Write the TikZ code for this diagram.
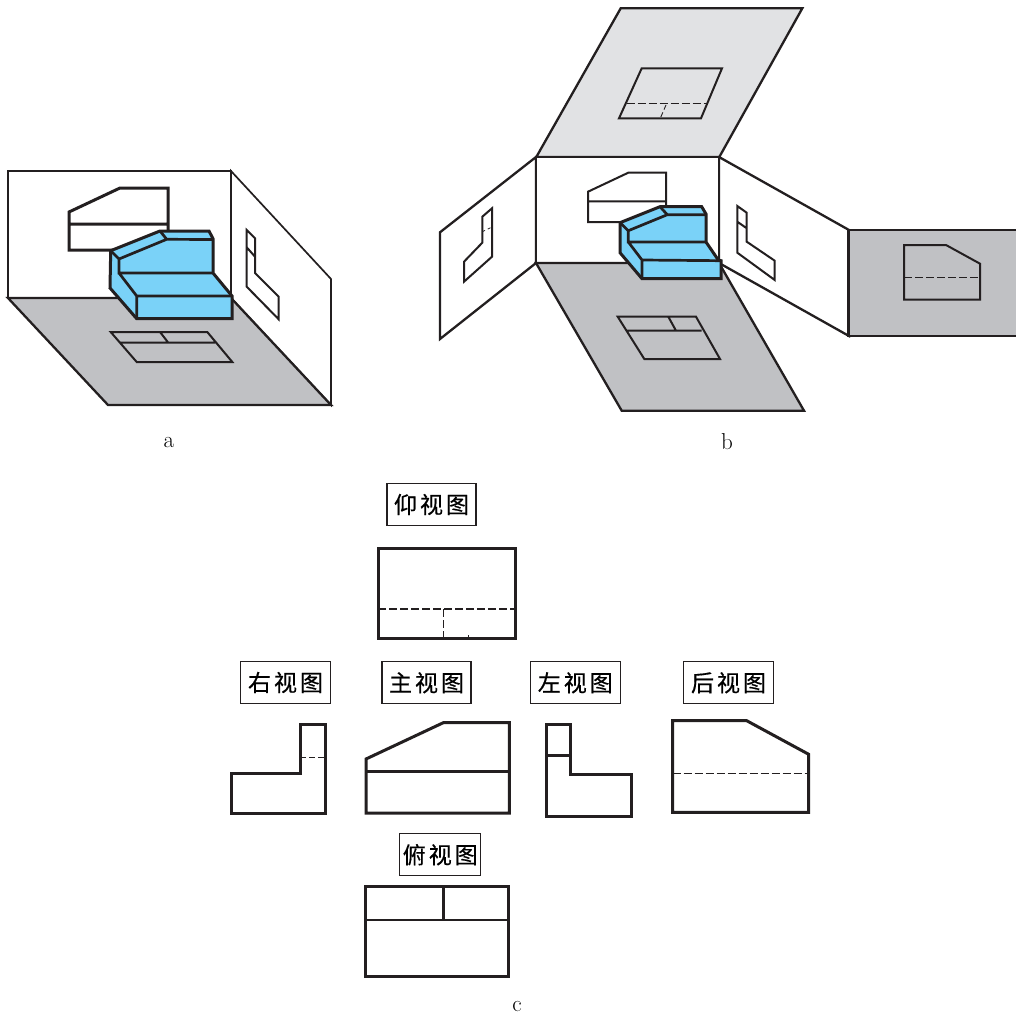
\documentclass[tikz,border=0pt]{standalone}
\usepackage{fontspec}
\newfontfamily\cjk[LetterSpace=13,FakeBold=0.5]{Noto Sans CJK SC}
\definecolor{objblue}{RGB}{122,210,248}
\definecolor{floorgray}{RGB}{192,193,196}
\definecolor{topgray}{RGB}{225,226,228}
\definecolor{ink}{RGB}{35,31,32}
\tikzset{
  plane/.style={draw=ink,line width=2.3pt,line join=miter,fill=white},
  thin plane/.style={draw=ink,line width=1.7pt,fill=white},
  proj/.style={draw=ink,line width=2pt,line join=miter},
  bold proj/.style={draw=ink,line width=3pt,line join=miter},
  obj/.style={draw=ink,line width=3pt,line join=miter,fill=objblue},
  objedge/.style={draw=ink,line width=2.7pt},
  hid/.style={draw=ink,line width=1.2pt,dash pattern=on 8pt off 3pt},
  viewline/.style={draw=ink,line width=3pt,line join=miter},
  vline/.style={draw=ink,line width=2.6pt},
  lab/.style={draw=ink,line width=1.2pt,fill=white,font=\cjk\fontsize{23}{26}\selectfont,minimum height=42pt,inner sep=0pt,anchor=center},
  capword/.style={font=\fontsize{23}{24}\selectfont,inner sep=0pt}
}
\begin{document}
\begin{tikzpicture}[x=1pt,y=-1pt]
\useasboundingbox (0,0) rectangle (1016,1014);
% panel a
\draw[thin plane] (231,171)--(331,279)--(331,405)--(231,298)--cycle;
\draw[plane] (8,171) rectangle (231,298);
\draw[plane,fill=floorgray] (8,298)--(231,298)--(331,405)--(108,405)--cycle;
\draw[bold proj] (69,250)--(69,212)--(120,188)--(168,188)--(168,250)--cycle (69,224)--(168,224);
\draw[proj] (246.7,230)--(255,238.3)--(255,273)--(278.7,296.7)--(278.7,319.3)--(246.7,286.7)--cycle (246.7,247.3)--(255,256.7);
\draw[proj] (110.7,332)--(207.3,332)--(232.3,362)--(136.7,362)--cycle (120,342.7)--(215,342.7) (160,332)--(168.3,342.7);
\draw[obj] (110.7,250.7)--(160,231)--(209,231)--(213,238.7)--(213,273)--(232,296)--(232,318.7)--(136.7,318.7)--(110,288)--cycle;
\draw[objedge] (110.7,250.7)--(119,259)--(166.7,239.3)--(213,239.5) (160,231)--(166.7,239.3) (119,259)--(119,273)--(213,273) (119,273)--(136.7,296)--(232,296) (136.7,296)--(136.7,318.7);
% panel b
\draw[plane] (536,157)--(440,232.3)--(440,339)--(536,263)--cycle;
\draw[plane] (719,157)--(849,230)--(849,336)--(719,263)--cycle;
\draw[plane,fill=topgray] (620.7,8.3)--(802.3,8.3)--(719.3,157)--(536.3,157)--cycle;
\fill[floorgray] (849,230)--(1016,230)--(1016,336)--(849,336)--cycle;
\draw[draw=ink,line width=2.1pt] (1016,230.3)--(848.5,230.3)--(848.5,335.7)--(1016,335.7);
\draw[plane] (536,157) rectangle (719.3,263);
\draw[plane,fill=floorgray] (536,263)--(719,263)--(804,410.7)--(621.7,410.7)--cycle;
\draw[proj] (641.7,68.3)--(722,68.3)--(701,118.3)--(619,118.3)--cycle;
\draw[hid] (626.7,103.7)--(706,103.7);
\draw[hid,line width=.9pt,dash pattern=on 5pt off 3pt] (666,105)--(660.7,117.3);
\draw[proj] (588,222)--(588,191.7)--(628.3,172.7)--(666,172.7)--(666,222)--cycle (588,201.3)--(666,201.3);
\draw[proj] (492,208.3)--(492,256.7)--(464,281.7)--(464,261.7)--(482.3,242.7)--(482.3,216.7)--cycle;
\draw[hid,line width=.8pt,dash pattern=on 3pt off 3pt] (482.3,231.7)--(492,227);
\draw[proj] (737.3,206)--(746.7,212.7)--(746.7,241.7)--(774.7,260.7)--(774.7,280)--(737.3,252.7)--cycle (737.3,221.7)--(746.7,228.3);
\draw[proj] (617.7,316.7)--(696,316.7)--(720,359)--(644.3,359)--cycle (626.7,330.7)--(701.7,330.7) (668.3,316.7)--(676,330.7);
\draw[proj] (904,245)--(946,245)--(980,263.7)--(980,299.7)--(904,299.7)--cycle;
\draw[hid] (904,277.3)--(980,277.3);
\draw[obj] (620,222.7)--(660,206.7)--(701.7,206.7)--(706,214)--(706,242)--(718.3,260)--(721,260.7)--(721,278.7)--(642,278.7)--(620,252.7)--cycle;
\draw[objedge] (620,222.7)--(628.3,230.7)--(667.3,214.7)--(706,214.7) (660,206.7)--(667.3,214.7) (628.3,230.7)--(628.3,242)--(706,242) (628.3,242)--(642,260)--(721,260.7) (642,260)--(642,278.7);
% labels
\node[capword] (capa) at (169,443) {a};
\node[capword] (capb) at (727,442) {b};
\node[capword] (capc) at (517,1006) {c};
\node[lab,minimum width=89pt] (lbottom) at (431.5,504.5) {仰视图};
\node[lab,minimum width=90pt] (lright) at (285.5,682.5) {右视图};
\node[lab,minimum width=89pt] (lfront) at (426.5,682.8) {主视图};
\node[lab,minimum width=90pt] (lleft) at (575.3,682.8) {左视图};
\node[lab,minimum width=90pt] (lback) at (728.5,682.8) {后视图};
\node[lab,minimum width=81pt] (ltop) at (440.3,854.7) {俯视图};
% views
\draw[viewline] (378,548) rectangle (515,638);
\draw[hid] (378,609)--(515,609);
\draw[hid] (443.3,609)--(443.3,638);
\draw[ink,line width=1pt] (468.5,635)--(468.5,637);
\draw[viewline] (300,724)--(325.3,724)--(325.3,813.7)--(231,813.7)--(231,773)--(300,773)--cycle;
\draw[hid,dash pattern=on 6pt off 3pt] (300,757.3)--(325.3,757.3);
\draw[viewline] (366,759)--(443.3,722.7)--(509.3,722.7)--(509.3,813)--(366,813)--cycle;
\draw[vline] (366,771.7)--(509.3,771.7);
\draw[viewline] (546,724.7)--(570.7,724.7)--(570.7,774.3)--(631.7,774.3)--(631.7,816.3)--(546,816.3)--cycle;
\draw[vline] (546,755.7)--(570.7,755.7);
\draw[viewline] (672.7,720.7)--(746.7,720.7)--(808.7,754.3)--(808.7,812.3)--(672.7,812.3)--cycle;
\draw[hid] (672.7,773.3)--(808.7,773.3);
\draw[viewline] (365.7,886.3) rectangle (508,976.3);
\draw[vline] (365.7,920)--(508,920) (443.7,886.3)--(443.7,920);
\end{tikzpicture}
\end{document}
